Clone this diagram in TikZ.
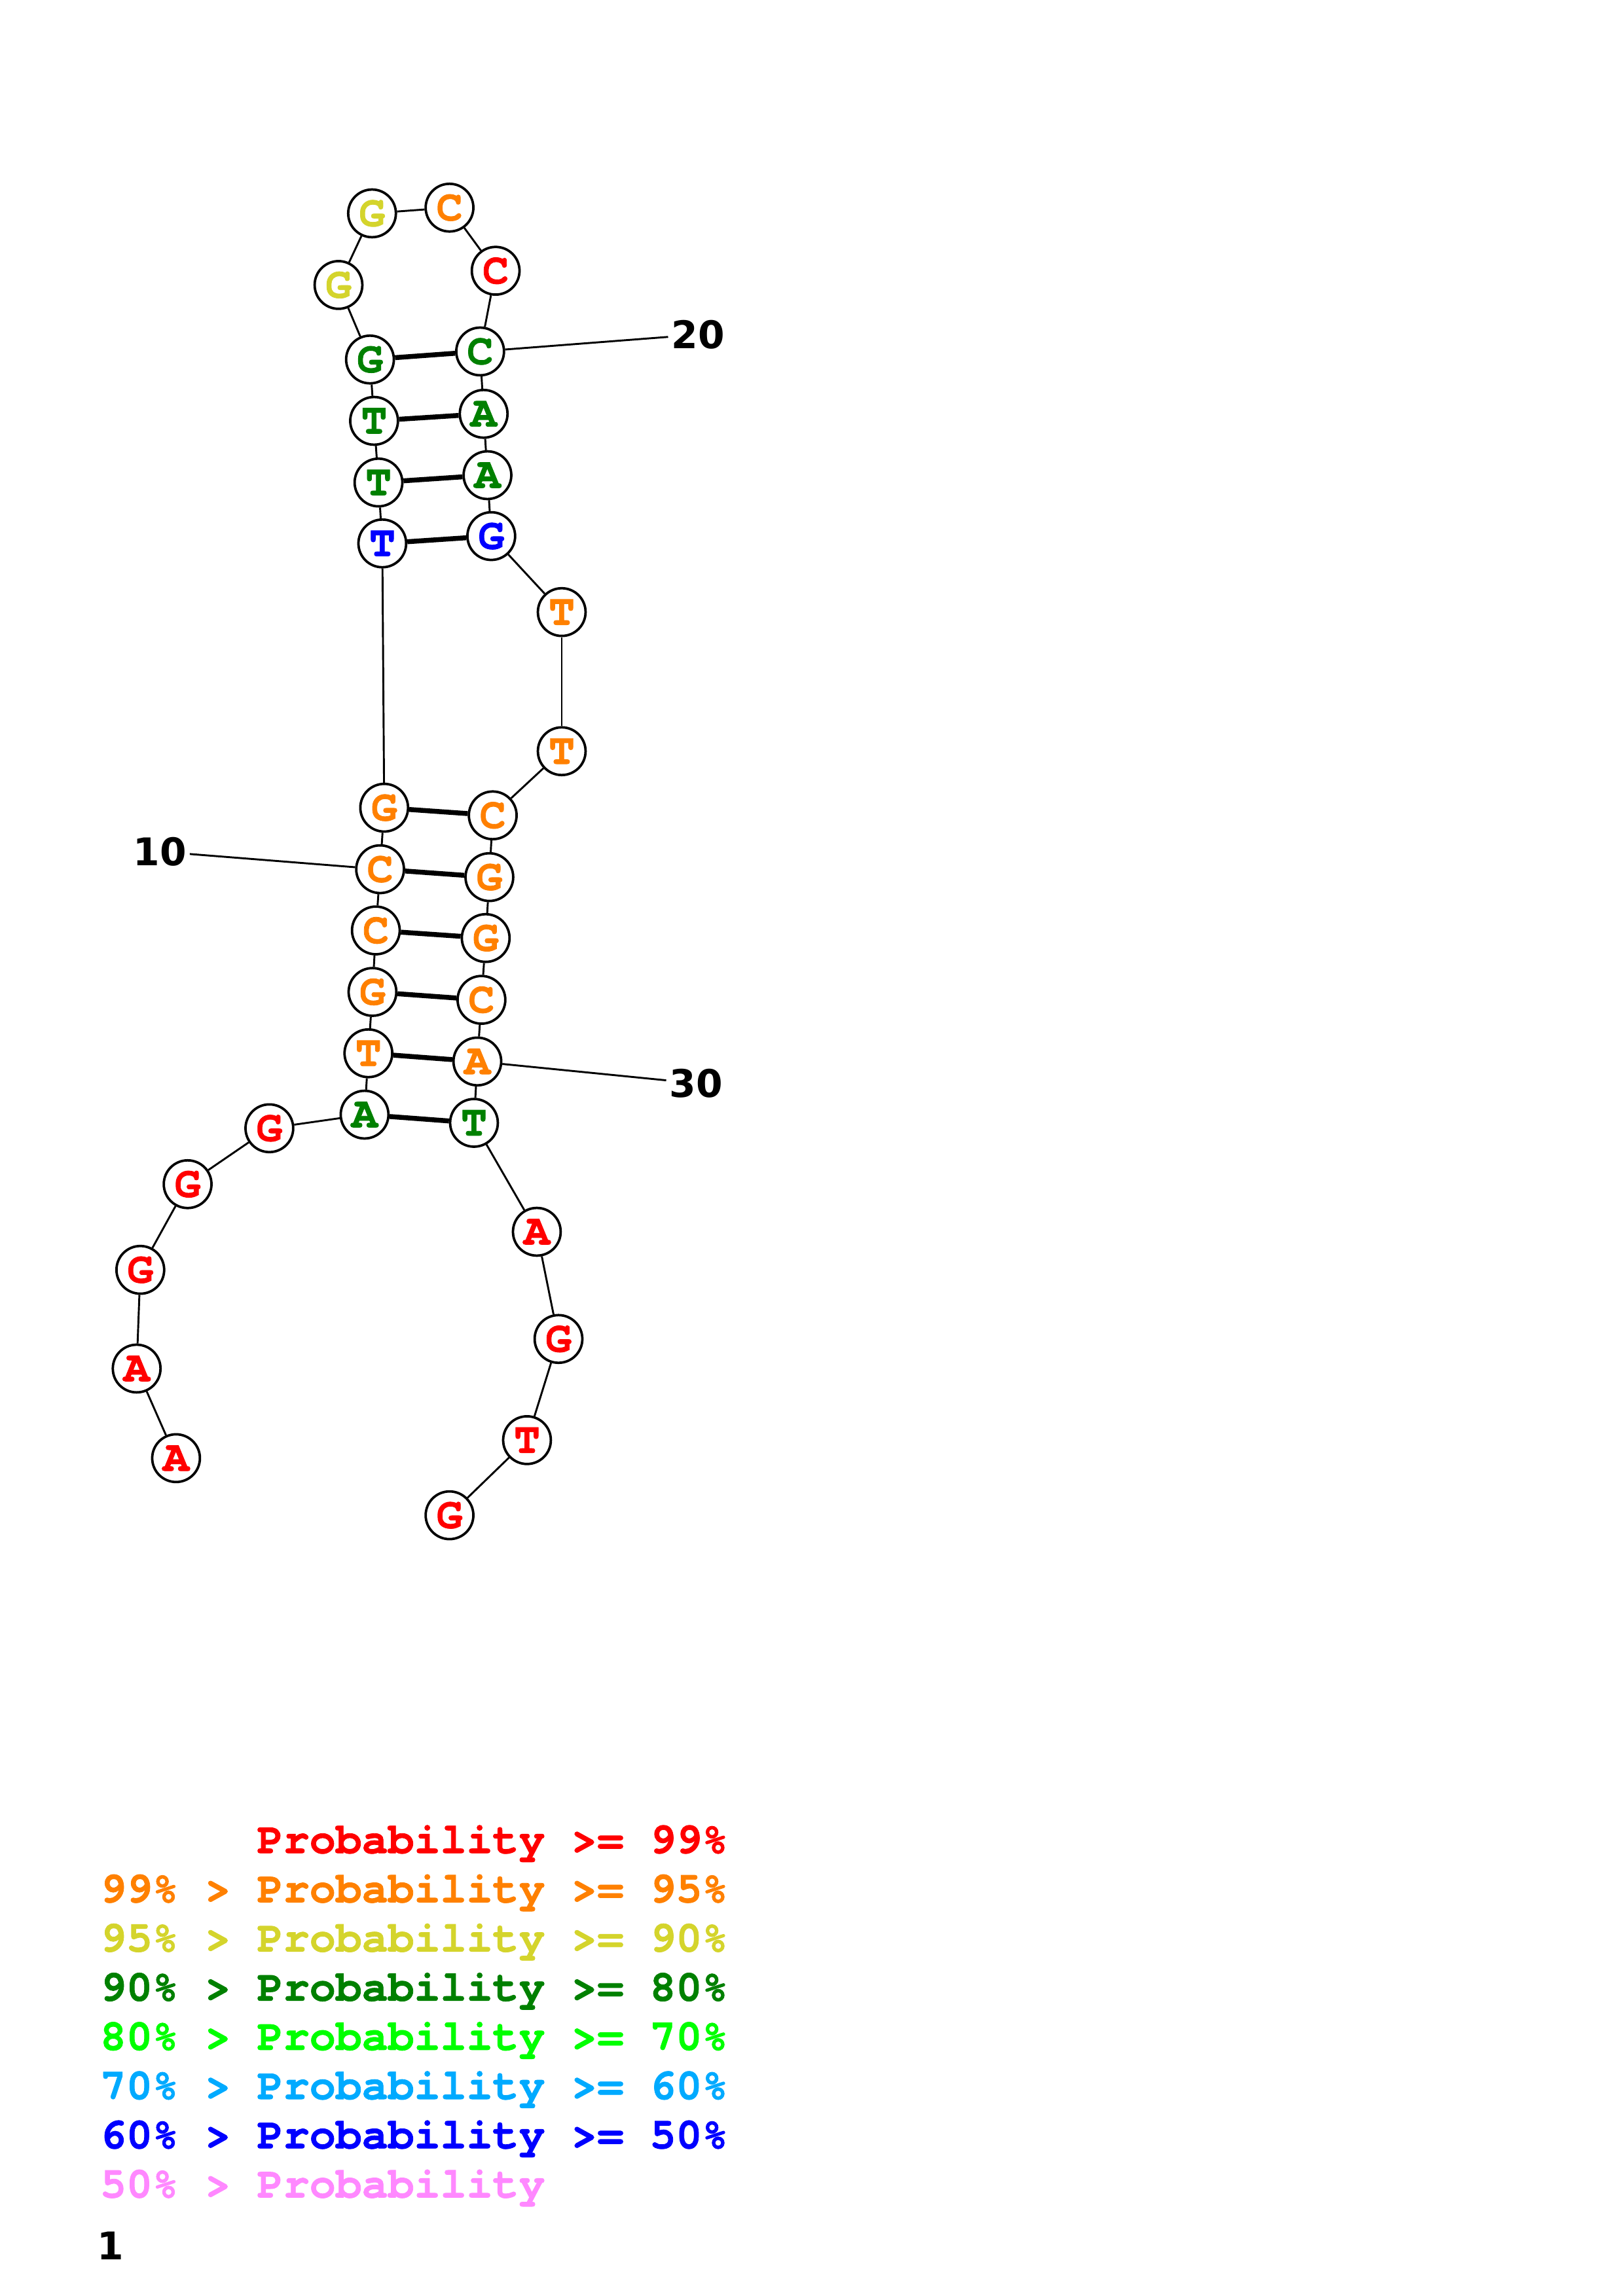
\documentclass[tikz,border=0pt]{standalone}
\usepackage{fontspec}
\usepackage{xcolor}
\newfontfamily\basefont{texgyrecursor}[Extension=.otf, UprightFont=*-regular, BoldFont=*-bold, BoldFeatures={FakeBold=1.2}]
\newfontfamily\numfont{DejaVu Sans}
\definecolor{prob_99}{HTML}{FF0000}
\definecolor{prob_95}{HTML}{FF8000}
\definecolor{prob_90}{HTML}{D4D42C}
\definecolor{prob_80}{HTML}{008000}
\definecolor{prob_70}{HTML}{00FF00}
\definecolor{prob_60}{HTML}{00AAFF}
\definecolor{prob_50}{HTML}{0000FF}
\definecolor{prob_00}{HTML}{FF88FF}

\begin{document}
\begin{tikzpicture}[x=0.53725pt,y=-0.53725pt,
		base/.style={circle,draw,line width=0.9pt,fill=white,minimum size=17.5pt,inner sep=0pt,
			font=\basefont\bfseries\fontsize{16}{16}\selectfont},
		backbone/.style={line width=0.7pt},
		bond/.style={line width=1.8pt},
		numlabel/.style={inner sep=1pt,font=\numfont\bfseries\fontsize{14}{14}\selectfont},
		legend/.style={anchor=base west,inner sep=0pt,font=\basefont\bfseries\fontsize{16}{16}\selectfont}]
				\useasboundingbox (0, 0) rectangle (1108, 1568);
				% Nucleotides
				\foreach \i/\x/\y/\b/\c in {
					1/120.2/995.8/A/prob_99, 2/93.3/934.6/A/prob_99, 3/95.8/867.2/G/prob_99,
					4/128.1/808.7/G/prob_99, 5/183.9/770.5/G/prob_99, 6/248.9/761.2/A/prob_80,
					7/251.5/719.3/T/prob_95, 8/254.3/677.4/G/prob_95, 9/256.6/635.4/C/prob_95,
					10/259.5/593.6/C/prob_95, 11/262.3/551.6/G/prob_95, 12/261.0/371.1/T/prob_50,
					13/258.4/329.5/T/prob_80, 14/255.4/287.4/T/prob_80, 15/252.6/245.5/G/prob_80,
					16/231.1/194.6/G/prob_90, 17/254.0/145.7/G/prob_90, 18/306.9/141.8/C/prob_95,
					19/338.4/184.9/C/prob_99, 20/327.8/240.0/C/prob_80, 21/330.2/282.6/A/prob_80,
					22/332.8/324.5/A/prob_80, 23/335.4/366.1/G/prob_50, 24/383.5/418.0/T/prob_95,
					25/383.5/513.0/T/prob_95, 26/336.4/556.8/C/prob_95, 27/334.1/599.0/G/prob_95,
					28/331.6/640.6/G/prob_95, 29/328.7/682.8/C/prob_95, 30/325.9/724.9/A/prob_95,
					31/323.6/766.8/T/prob_80, 32/366.5/841.2/A/prob_99, 33/381.3/914.4/G/prob_99,
					34/359.8/983.5/T/prob_99, 35/306.9/1034.8/G/prob_99}
					\node[base, text=\c] (n\i) at (\x, \y) {\b};
				
				% Backbone
				\foreach \i [count=\j from 2] in {1,...,34}
					\draw[backbone] (n\i) -- (n\j);
				
				% Pairs
				\foreach \a/\b in {6/31, 7/30, 8/29, 9/28, 10/27, 11/26, 12/23, 13/22, 14/21, 15/20}
					\draw[bond] (n\a) -- (n\b);
				
				% Numbers
				\node[numlabel] (num10) at (109.2, 581.6) {10};
				\node[numlabel] (num20) at (476.5, 228.5) {20};
				\node[numlabel] (num30) at (475.2, 739.8) {30};
				\draw[backbone] (n10) -- (num10);
				\draw[backbone] (n20) -- (num20);
				\draw[backbone] (n30) -- (num30);
				\node[numlabel] (num1) at (75.5, 1533.8) {1};
				
				% Legend
				\node[legend, text=prob_99] (key99) at (175.2, 1265.5) {Probability >= 99\%};
				\node[legend, text=prob_95] (key95) at (68, 1299.1) {99\% > Probability >= 95\%};
				\node[legend, text=prob_90] (key90) at (68, 1332.7) {95\% > Probability >= 90\%};
				\node[legend, text=prob_80] (key80) at (68, 1366.3) {90\% > Probability >= 80\%};
				\node[legend, text=prob_70] (key70) at (68, 1399.9) {80\% > Probability >= 70\%};
				\node[legend, text=prob_60] (key60) at (68, 1433.5) {70\% > Probability >= 60\%};
				\node[legend, text=prob_50] (key50) at (68, 1467.1) {60\% > Probability >= 50\%};
				\node[legend, text=prob_00] (key00) at (68, 1500.7) {50\% > Probability};
			\end{tikzpicture}
\end{document}
